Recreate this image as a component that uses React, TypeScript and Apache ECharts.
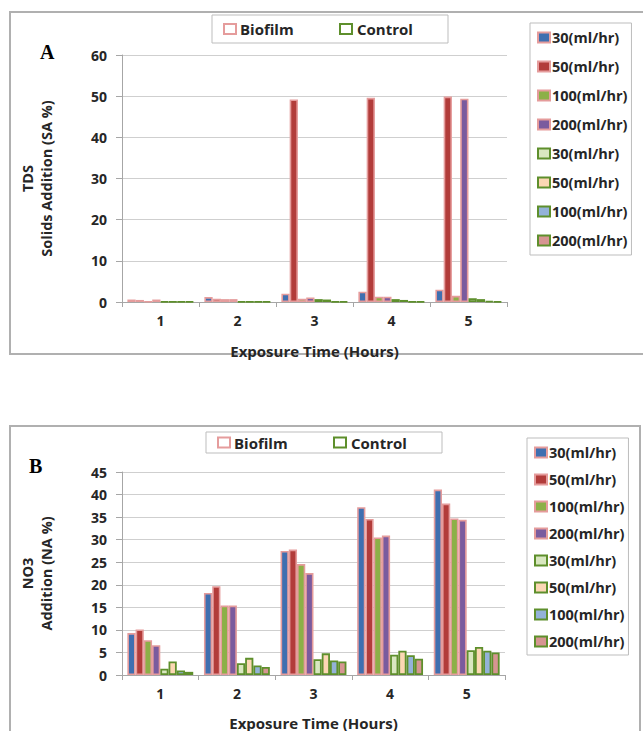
import React, { useEffect, useRef } from "react";
import * as echarts from "echarts";

const categories = ["1", "2", "3", "4", "5"];
const rateLabels = ["30(ml/hr)", "50(ml/hr)", "100(ml/hr)", "200(ml/hr)"];
const tdsTicksMax = 60;
const no3TicksMax = 45;

// Panel A: TDS Solids Addition (SA %)
const tdsBio30 = [0.6, 1.2, 2.0, 2.5, 3.0];
const tdsBio50 = [0.5, 0.8, 49.2, 49.6, 49.9];
const tdsBio100 = [0.1, 0.7, 0.8, 1.3, 1.5];
const tdsBio200 = [0.6, 0.7, 1.1, 1.3, 49.4];
const tdsCtl30 = [0.1, 0.1, 0.7, 0.7, 0.9];
const tdsCtl50 = [0.1, 0.1, 0.6, 0.5, 0.7];
const tdsCtl100 = [0.1, 0.1, 0.1, 0.1, 0.2];
const tdsCtl200 = [0.1, 0.1, 0.1, 0.1, 0.1];

// Panel B: NO3 Addition (NA %)
const no3Bio30 = [9.3, 18.2, 27.5, 37.2, 41.1];
const no3Bio50 = [10.1, 19.7, 27.8, 34.6, 38.0];
const no3Bio100 = [7.7, 15.4, 24.6, 30.5, 34.7];
const no3Bio200 = [6.6, 15.4, 22.6, 30.9, 34.4];
const no3Ctl30 = [1.4, 2.6, 3.5, 4.5, 5.5];
const no3Ctl50 = [3.0, 3.8, 4.8, 5.4, 6.2];
const no3Ctl100 = [1.0, 2.1, 3.2, 4.4, 5.4];
const no3Ctl200 = [0.7, 1.8, 3.0, 3.6, 5.0];

const bioFills = ["#3f6fb0", "#b23c3a", "#8cb047", "#7a5b9e"];
const ctlFills = ["#d9e7c0", "#fcd7b4", "#93b2d8", "#d69592"];
const bioBorder = "#e59c9c";
const ctlBorder = "#5e8f2c";

const FONT = "'Open Sans', 'DejaVu Sans', sans-serif";
const TXT = "#262626";

export default function App() {
  const ref = useRef<HTMLDivElement>(null);
  useEffect(() => {
    if (!ref.current) return;
    const chart = echarts.init(ref.current, undefined, { renderer: "svg" });

    const bioNames = rateLabels.map((r) => "Biofilm " + r);
    const ctlNames = rateLabels.map((r) => "Control " + r);
    const legendNames = [...bioNames, ...ctlNames];

    const tdsData = [tdsBio30, tdsBio50, tdsBio100, tdsBio200, tdsCtl30, tdsCtl50, tdsCtl100, tdsCtl200];
    const no3Data = [no3Bio30, no3Bio50, no3Bio100, no3Bio200, no3Ctl30, no3Ctl50, no3Ctl100, no3Ctl200];

    const mkSeries = (data: number[][], idx: number) =>
      data.map((d, i) => {
        const bio = i < 4;
        return {
          type: "bar",
          name: legendNames[i],
          xAxisIndex: idx,
          yAxisIndex: idx,
          data: d,
          barGap: "0%",
          barCategoryGap: "14%",
          itemStyle: {
            color: bio ? bioFills[i] : ctlFills[i - 4],
            borderColor: bio ? bioBorder : ctlBorder,
            borderWidth: bio ? 1.6 : 1.8,
          },
        };
      });

    const xAxisCommon = {
      type: "category",
      data: categories,
      axisLine: { lineStyle: { color: "#a6a6a6", width: 1 } },
      axisTick: { show: true, length: 5, lineStyle: { color: "#a6a6a6" } },
      axisLabel: { color: TXT, fontFamily: FONT, fontWeight: "bold", fontSize: 14, margin: 11 },
      name: "Exposure Time (Hours)",
      nameLocation: "middle",
      nameGap: 41,
      nameTextStyle: { color: TXT, fontFamily: FONT, fontWeight: "bold", fontSize: 15 },
    };
    const yAxisCommon = {
      type: "value",
      min: 0,
      nameLocation: "middle",
      nameRotate: 90,
      nameGap: 66,
      nameTextStyle: { color: TXT, fontFamily: FONT, fontWeight: "bold", fontSize: 14.5, lineHeight: 19, align: "center" },
      axisLine: { show: true, lineStyle: { color: "#a6a6a6", width: 1 } },
      axisTick: { show: true, length: 6, lineStyle: { color: "#a6a6a6" } },
      axisLabel: { color: TXT, fontFamily: FONT, fontWeight: "bold", fontSize: 14, margin: 15 },
      splitLine: { lineStyle: { color: "#cfcfcf", width: 1 } },
    };

    const legendCommon = {
      orient: "vertical",
      icon: "rect",
      itemWidth: 12,
      itemHeight: 10,
      backgroundColor: "#fff",
      borderColor: "#bdbdbd",
      borderWidth: 1,
      data: legendNames,
      formatter: (n: string) => n.split(" ")[1],
      textStyle: { color: TXT, fontFamily: FONT, fontWeight: "bold", fontSize: 14.5, lineHeight: 14, padding: [0, 0, 0, -3] },
      selectedMode: false,
    };

    const topLegend = (x: number, y: number, w: number, h: number) => {
      const cy = y + h / 2;
      return {
        type: "group",
        children: [
          { type: "rect", shape: { x, y, width: w, height: h }, style: { fill: "#fff", stroke: "#bdbdbd", lineWidth: 1 } },
          { type: "rect", shape: { x: x + 12, y: cy - 5, width: 12, height: 10 }, style: { fill: "#fff", stroke: bioBorder, lineWidth: 2 } },
          { type: "text", x: x + 28, y: cy, style: { text: "Biofilm", fill: TXT, font: `bold 15px ${FONT}`, verticalAlign: "middle" } },
          { type: "rect", shape: { x: x + 128, y: cy - 5, width: 12, height: 10 }, style: { fill: "#fff", stroke: ctlBorder, lineWidth: 2 } },
          { type: "text", x: x + 145, y: cy, style: { text: "Control", fill: TXT, font: `bold 15px ${FONT}`, verticalAlign: "middle" } },
        ],
      };
    };

    chart.setOption({
      animation: false,
      backgroundColor: "#fff",
      grid: [
        { left: 122, right: 136, top: 55, height: 247 },
        { left: 122, right: 138, top: 472, height: 215 },
      ],
      xAxis: [
        { ...xAxisCommon, gridIndex: 0 },
        { ...xAxisCommon, gridIndex: 1, nameGap: 40 },
      ],
      yAxis: [
        { ...yAxisCommon, gridIndex: 0, max: tdsTicksMax, interval: 10, name: "TDS\nSolids Addition (SA %)" },
        { ...yAxisCommon, gridIndex: 1, max: no3TicksMax, interval: 5, name: "NO3\nAddition (NA %)" },
      ],
      legend: [
        { ...legendCommon, left: 530, top: 23, itemGap: 14, padding: [7, 4, 7, 7] },
        { ...legendCommon, left: 527, top: 438, itemGap: 12, padding: [7, 4, 6, 7] },
      ],
      graphic: [
        { type: "polyline", z: -10, shape: { points: [[643, 12], [10, 12], [10, 354], [643, 354]] }, style: { fill: null, stroke: "#b0b0b0", lineWidth: 2 } },
        { type: "polyline", z: -10, shape: { points: [[10, 740], [10, 426], [640, 426], [640, 740]] }, style: { fill: null, stroke: "#b0b0b0", lineWidth: 2 } },
        { type: "text", x: 40, y: 52, style: { text: "A", fill: "#000", font: "bold 20px 'Liberation Serif', 'DejaVu Serif', serif", verticalAlign: "middle" } },
        { type: "text", x: 29, y: 466, style: { text: "B", fill: "#000", font: "bold 20px 'Liberation Serif', 'DejaVu Serif', serif", verticalAlign: "middle" } },
        topLegend(212, 15, 236, 28),
        topLegend(206, 432, 236, 21),
      ],
      series: [...mkSeries(tdsData, 0), ...mkSeries(no3Data, 1)],
    });
    return () => chart.dispose();
  }, []);
  return <div ref={ref} style={{ position: "fixed", left: 0, top: 0, width: 643, height: 731 }} />;
}
